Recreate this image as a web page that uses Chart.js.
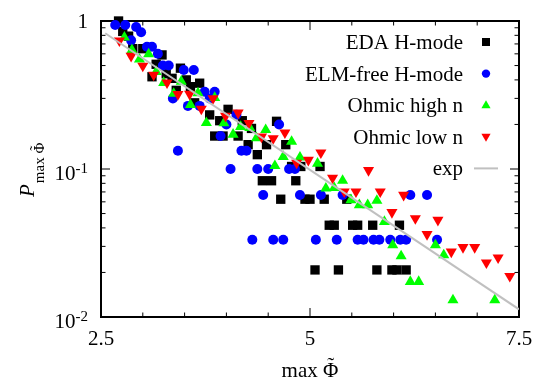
<!DOCTYPE html>
<html>
<head>
<meta charset="utf-8">
<script src="https://cdn.jsdelivr.net/npm/chart.js@4.4.1/dist/chart.umd.min.js"></script>
<style>
  body { margin: 0; background: #fff; }
</style>
</head>
<body>
<canvas id="chart" width="545" height="382"></canvas>
<script>
// values
const edaX = [2.71, 2.76, 2.83, 2.88, 3.00, 3.23, 3.16, 3.11, 3.28, 3.35, 3.45, 3.52, 3.68, 3.57, 3.40,
  3.62, 3.80, 3.92, 4.02, 4.19, 4.30, 3.86, 3.96, 4.14, 4.26, 4.48, 4.60, 4.71, 4.37, 4.78,
  4.89, 5.12, 4.43, 4.54, 4.83, 4.65, 4.94, 5.00, 5.17, 5.44, 5.23, 5.29, 5.51, 5.57, 5.75, 6.07,
  5.06, 5.34, 5.80, 5.98, 6.04, 6.15]
const edaY = [1.0, 0.85, 0.79, 0.65, 0.65, 0.59, 0.51, 0.42, 0.44, 0.41, 0.48, 0.40, 0.38, 0.36, 0.34,
  0.28, 0.232, 0.212, 0.253, 0.212, 0.188, 0.167, 0.167, 0.167, 0.146, 0.146, 0.21, 0.146, 0.125, 0.104,
  0.104, 0.104, 0.0833, 0.0833, 0.0833, 0.0625, 0.0625, 0.0625, 0.0625, 0.0625,
  0.0417, 0.0417, 0.0417, 0.0417, 0.0417, 0.0417,
  0.0208, 0.0208, 0.0208, 0.0208, 0.0208, 0.0208]

const elmX = [2.67, 2.79, 2.92, 2.98, 2.86, 3.05, 3.11, 3.18, 3.24, 3.31, 3.49, 3.61, 3.74, 3.86, 3.36,
  3.80, 3.54, 3.68, 4.12, 4.00, 4.63, 3.93, 3.42, 4.18, 4.24, 4.05, 4.37, 4.50, 4.75, 4.82,
  4.44, 4.88, 5.13, 5.39, 6.20, 6.40,
  4.31, 4.56, 4.68, 5.07, 5.32, 5.57, 5.64, 5.76, 5.83, 5.96, 6.08, 6.15, 6.52]
const elmY = [0.94, 0.94, 0.91, 0.84, 0.74, 0.67, 0.67, 0.60, 0.50, 0.50, 0.467, 0.467, 0.333, 0.333, 0.30,
  0.30, 0.267, 0.267, 0.233, 0.20, 0.20, 0.167, 0.133, 0.133, 0.133, 0.1, 0.1, 0.1, 0.1, 0.1,
  0.0667, 0.0667, 0.0667, 0.0667, 0.0667, 0.0667,
  0.0333, 0.0333, 0.0333, 0.0333, 0.0333, 0.0333, 0.0333, 0.0333, 0.0333, 0.0333, 0.0333, 0.0333, 0.0333]

const highX = [2.78, 2.87, 2.96, 3.07, 3.16, 3.25, 3.46, 3.37, 3.66, 3.57, 3.76, 3.97, 4.17, 4.28, 4.08,
  4.47, 4.36, 4.78, 4.68, 4.88, 5.09, 4.58, 5.19, 5.29, 5.39, 5.49, 5.59, 5.69, 5.80, 5.89,
  5.99, 6.50, 6.60, 6.09, 6.20, 6.30, 6.71, 7.21, 3.86]
const highY = [0.776, 0.637, 0.551, 0.598, 0.454, 0.383, 0.39, 0.323, 0.326, 0.272, 0.205, 0.204, 0.193, 0.19, 0.171,
  0.184, 0.162, 0.153, 0.121, 0.12, 0.109, 0.105, 0.074, 0.0745, 0.0834, 0.0618, 0.0571, 0.0571, 0.0611, 0.044,
  0.0306, 0.0306, 0.0262, 0.0258, 0.0173, 0.0173, 0.013, 0.013, 0.303]

const lowX = [2.72, 2.86, 3.00, 3.13, 3.29, 3.42, 3.56, 3.84, 3.70, 3.99, 4.14, 4.27, 4.42, 4.56, 4.70,
  4.84, 4.98, 5.13, 5.27, 5.41, 5.55, 5.70, 5.84, 5.98, 6.12, 6.26, 6.53, 6.40, 6.69, 6.83,
  6.97, 7.11, 7.25, 7.39]
const lowY = [0.736, 0.58, 0.497, 0.432, 0.383, 0.32, 0.321, 0.30, 0.255, 0.228, 0.24, 0.204, 0.165, 0.161, 0.176,
  0.11, 0.115, 0.129, 0.087, 0.0703, 0.0703, 0.098, 0.0703, 0.051, 0.0667, 0.0464, 0.0452, 0.0362, 0.0276, 0.0296,
  0.0296, 0.0233, 0.0252, 0.0189]

// exponential fit, a straight line on the log axis
const expX = [2.55, 7.5]
const expY = [0.826, 0.01127]

const xMajor = [2.5, 5, 7.5]
const yMajor = [1, 0.1, 0.01]

const serif = '"Liberation Serif", "Times New Roman", serif'
Chart.defaults.font.family = serif

const pts = (xs, ys) => xs.map((x, i) => ({ x: x, y: ys[i] }))

const series = [
  { label: 'EDA H-mode', data: pts(edaX, edaY), color: '#000000', style: 'rect', r: 6.6, rot: 0, order: 4 },
  { label: 'ELM-free H-mode', data: pts(elmX, elmY), color: '#0000ff', style: 'circle', r: 5, rot: 0, order: 3 },
  { label: 'Ohmic high n', data: pts(highX, highY), color: '#00ff00', style: 'triangle', r: 6.4, rot: 0, order: 2 },
  { label: 'Ohmic low n', data: pts(lowX, lowY), color: '#ff0000', style: 'triangle', r: 6.4, rot: 180, order: 1 }
]

// small marker for the legend
function marker(ctx, s, x, y) {
  ctx.fillStyle = s.color
  ctx.beginPath()
  if (s.style === 'rect') {
    ctx.rect(x - 4, y - 4, 8, 8)
  } else if (s.style === 'circle') {
    ctx.arc(x, y, 4.2, 0, Math.PI * 2)
  } else if (s.rot === 0) {
    ctx.moveTo(x, y - 5)
    ctx.lineTo(x + 4.6, y + 3)
    ctx.lineTo(x - 4.6, y + 3)
  } else {
    ctx.moveTo(x, y + 5)
    ctx.lineTo(x + 4.6, y - 3)
    ctx.lineTo(x - 4.6, y - 3)
  }
  ctx.closePath()
  ctx.fill()
}

// "max Φ" with a tilde over the Φ, starting at x (left aligned)
function maxPhi(ctx, x, y, size) {
  ctx.font = size + 'px ' + serif
  ctx.textAlign = 'left'
  ctx.fillText('max \u03A6', x, y)
  const w0 = ctx.measureText('max ').width
  const wp = ctx.measureText('\u03A6').width
  ctx.textAlign = 'center'
  ctx.fillText('\u02DC', x + w0 + wp / 2, y - size * 0.24)
  ctx.textAlign = 'left'
  return w0 + wp
}

const frame = {
  id: 'frame',
  beforeDatasetsDraw(chart) {
    const { ctx, chartArea: a, scales: { x, y } } = chart
    ctx.save()
    ctx.strokeStyle = '#000'
    ctx.lineWidth = 1
    ctx.beginPath()
    for (const t of x.ticks) {
      const px = x.getPixelForValue(t.value)
      const len = xMajor.includes(t.value) ? 9 : 4.5
      ctx.moveTo(px, a.bottom); ctx.lineTo(px, a.bottom - len)
      ctx.moveTo(px, a.top); ctx.lineTo(px, a.top + len)
    }
    for (let k = -2; k <= 0; k++) {
      for (let m = 1; m <= 9; m++) {
        const v = m * Math.pow(10, k)
        if (v > 1.0001) break
        const py = y.getPixelForValue(v)
        const len = m === 1 ? 9 : 4.5
        ctx.moveTo(a.left, py); ctx.lineTo(a.left + len, py)
        ctx.moveTo(a.right, py); ctx.lineTo(a.right - len, py)
      }
    }
    ctx.stroke()
    ctx.lineWidth = 2
    ctx.strokeRect(a.left, a.top, a.right - a.left, a.bottom - a.top)
    ctx.restore()
  },
  afterDraw(chart) {
    const { ctx, chartArea: a, scales: { y } } = chart
    ctx.save()
    ctx.fillStyle = '#000'
    ctx.textBaseline = 'alphabetic'

    // y tick labels with superscript powers
    ctx.textAlign = 'right'
    yMajor.forEach(v => {
      const py = y.getPixelForValue(v)
      if (v === 1) {
        ctx.font = '21px ' + serif
        ctx.fillText('1', 88, py + 7)
      } else {
        const p = String(Math.round(Math.log10(v)))
        ctx.font = '15px ' + serif
        ctx.fillText(p, 88, py + 4)
        const w = ctx.measureText(p).width
        ctx.font = '21px ' + serif
        ctx.fillText('10', 88 - w, py + 11)
      }
    })

    // x axis title, centred under the plot
    ctx.font = '21px ' + serif
    const tw = ctx.measureText('max \u03A6').width
    maxPhi(ctx, (a.left + a.right) / 2 - tw / 2, 377, 21)

    // y axis title, P with subscript, rotated
    ctx.save()
    ctx.translate(34, 197)
    ctx.rotate(-Math.PI / 2)
    ctx.textAlign = 'left'
    ctx.font = 'italic 21px ' + serif
    ctx.fillText('P', 0, 0)
    const pw = ctx.measureText('P').width
    maxPhi(ctx, pw + 1, 9.5, 15)
    ctx.restore()

    // legend, text on the left and key on the right
    ctx.textAlign = 'right'
    ctx.font = '21px ' + serif
    series.forEach((s, i) => {
      const ly = 42 + i * 31.6
      ctx.fillStyle = '#000'
      ctx.fillText(s.label, 463, ly + 7)
      marker(ctx, s, 486, ly)
    })
    const ey = 42 + 4 * 31.6
    ctx.fillStyle = '#000'
    ctx.fillText('exp', 463, ey + 7)
    ctx.strokeStyle = '#c0c0c0'
    ctx.lineWidth = 2
    ctx.beginPath()
    ctx.moveTo(474, ey); ctx.lineTo(498, ey)
    ctx.stroke()
    ctx.restore()
  }
}

const datasets = series.map(s => ({
  label: s.label,
  data: s.data,
  backgroundColor: s.color,
  borderColor: s.color,
  borderWidth: 0,
  pointStyle: s.style,
  pointRadius: s.r,
  pointRotation: s.rot,
  order: s.order,
  clip: false
}))
datasets.push({
  type: 'line',
  label: 'exp',
  data: pts(expX, expY),
  borderColor: '#c0c0c0',
  borderWidth: 2,
  pointRadius: 0,
  order: 0
})

new Chart(document.querySelector('#chart'), {
  type: 'scatter',
  data: { datasets: datasets },
  options: {
    responsive: false,
    animation: false,
    layout: { padding: { top: 21, right: 26, left: 0, bottom: 0 } },
    plugins: { legend: { display: false }, tooltip: { enabled: false } },
    scales: {
      x: {
        type: 'linear',
        min: 2.5,
        max: 7.5,
        grid: { display: false, drawTicks: false },
        border: { display: false },
        ticks: {
          stepSize: 0.5,
          autoSkip: false,
          maxRotation: 0,
          padding: 10,
          color: '#000',
          font: { size: 21 },
          callback: v => xMajor.includes(v) ? String(v) : ''
        },
        afterFit: s => { s.height = 65 }
      },
      y: {
        type: 'logarithmic',
        min: 0.01,
        max: 1,
        grid: { display: false },
        border: { display: false },
        ticks: { display: false },
        afterFit: s => { s.width = 101 }
      }
    }
  },
  plugins: [frame]
})
</script>
</body>
</html>
